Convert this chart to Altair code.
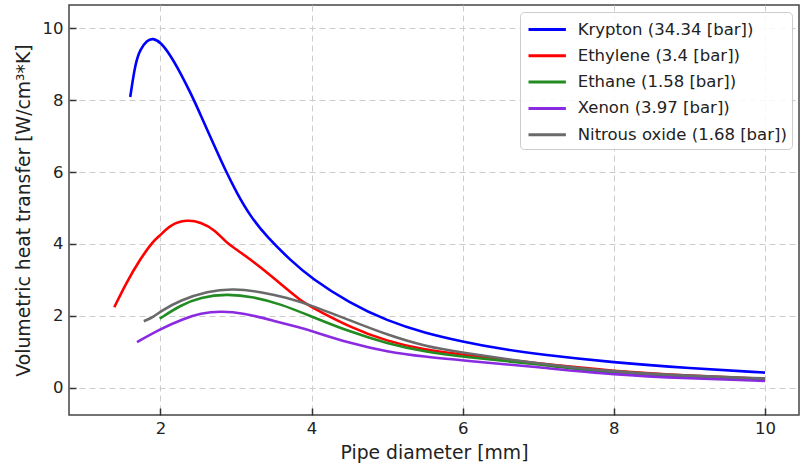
import altair as alt
import pandas as pd

series_names = [
    "Krypton (34.34 [bar])",
    "Ethylene (3.4 [bar])",
    "Ethane (1.58 [bar])",
    "Xenon (3.97 [bar])",
    "Nitrous oxide (1.68 [bar])",
]
series_colors = ["#0000ff", "#ff0000", "#228b22", "#8a2be2", "#6a6a6a"]

krypton_x = [1.60, 1.67, 1.735, 1.82, 1.90, 2.0, 2.13, 2.26, 2.40, 2.53, 2.705, 2.86, 3.01, 3.19, 3.41, 3.72, 4.0, 4.5, 5.0, 5.5, 6.0, 6.5, 7.0, 8.0, 9.0, 10.0]
krypton_y = [8.09, 9.06, 9.42, 9.66, 9.73, 9.62, 9.26, 8.78, 8.20, 7.60, 6.77, 6.05, 5.42, 4.77, 4.19, 3.55, 3.04, 2.36, 1.86, 1.52, 1.28, 1.08, 0.93, 0.70, 0.54, 0.42]

ethylene_x = [1.39, 1.54, 1.735, 1.91, 2.0, 2.13, 2.35, 2.53, 2.73, 2.86, 3.06, 3.32, 3.59, 3.85, 4.0, 4.5, 5.0, 5.5, 6.0, 7.0, 8.0, 9.0, 10.0]
ethylene_y = [2.24, 2.89, 3.59, 4.10, 4.24, 4.54, 4.68, 4.61, 4.38, 4.05, 3.77, 3.36, 2.89, 2.43, 2.24, 1.69, 1.29, 1.05, 0.92, 0.67, 0.46, 0.33, 0.25]

ethane_x = [1.99, 2.26, 2.53, 2.88, 3.23, 3.59, 4.0, 4.5, 5.0, 5.5, 6.0, 7.0, 8.0, 9.0, 10.0]
ethane_y = [1.92, 2.29, 2.52, 2.61, 2.53, 2.33, 1.98, 1.56, 1.23, 1.00, 0.86, 0.65, 0.40, 0.30, 0.22]

xenon_x = [1.69, 2.0, 2.31, 2.53, 2.79, 3.10, 3.50, 3.85, 4.0, 4.5, 5.0, 5.5, 6.0, 7.0, 8.0, 9.0, 10.0]
xenon_y = [1.27, 1.64, 1.92, 2.07, 2.13, 2.08, 1.86, 1.67, 1.58, 1.24, 1.00, 0.86, 0.76, 0.57, 0.36, 0.26, 0.19]

nitrous_x = [1.78, 1.91, 2.02, 2.26, 2.62, 2.97, 3.32, 3.68, 4.0, 4.5, 5.0, 5.5, 6.0, 7.0, 8.0, 9.0, 10.0]
nitrous_y = [1.85, 1.97, 2.15, 2.43, 2.69, 2.76, 2.67, 2.50, 2.29, 1.88, 1.47, 1.15, 0.97, 0.67, 0.44, 0.33, 0.26]

x_ticks = [2, 4, 6, 8, 10]
y_ticks = [0, 2, 4, 6, 8, 10]

rows = []
for name, xs, ys in zip(
    series_names,
    [krypton_x, ethylene_x, ethane_x, xenon_x, nitrous_x],
    [krypton_y, ethylene_y, ethane_y, xenon_y, nitrous_y],
):
    for i, (xv, yv) in enumerate(zip(xs, ys)):
        rows.append({"series": name, "d": xv, "q": yv, "order": i})
df = pd.DataFrame(rows)

x_scale = alt.Scale(domain=[0.79, 10.45], nice=False, zero=False)
y_scale = alt.Scale(domain=[-0.76, 10.65], nice=False, zero=False)

FONT = "DejaVu Sans"

lines = alt.Chart(df).mark_line(strokeWidth=2.6, interpolate="basis", clip=True).encode(
    x=alt.X(
        "d:Q", scale=x_scale, title="Pipe diameter [mm]",
        axis=alt.Axis(values=x_ticks, format="d", grid=True, gridDash=[6, 4], gridColor="#cccccc",
                      gridWidth=1, domain=False, ticks=False, tickSize=0, labelPadding=5,
                      titlePadding=7, labelFontSize=16.5, titleFontSize=18.8, labelColor="#222",
                      titleColor="#222", titleFontWeight="normal", labelFont=FONT, titleFont=FONT),
    ),
    y=alt.Y(
        "q:Q", scale=y_scale, title="Volumetric heat transfer [W/cm³*K]",
        axis=alt.Axis(values=y_ticks, format="d", grid=True, gridDash=[6, 4], gridColor="#cccccc",
                      gridWidth=1, domain=False, ticks=False, tickSize=0, labelPadding=6,
                      titlePadding=9, labelFontSize=16.5, titleFontSize=18.8, labelColor="#222",
                      titleColor="#222", titleFontWeight="normal", labelFont=FONT, titleFont=FONT),
    ),
    color=alt.Color(
        "series:N", sort=series_names,
        scale=alt.Scale(domain=series_names, range=series_colors),
        legend=alt.Legend(
            title=None, orient="top-right", offset=7,
            symbolType="M-1.7,0L1.7,0", symbolSize=484, symbolStrokeWidth=3,
            symbolOffset=9.7, labelOffset=18, padding=5, rowPadding=5.3,
            labelFontSize=16.5, labelFont=FONT, labelColor="#222", labelLimit=400,
            strokeColor="#cccccc", fillColor="rgba(255,255,255,0.85)", cornerRadius=4,
        ),
    ),
    order="order:Q",
)

tick_layer = alt.Chart(df).mark_point(opacity=0, size=0).encode(
    x=alt.X("d:Q", scale=x_scale,
            axis=alt.Axis(orient="bottom", values=x_ticks, offset=-7, tickSize=7, labels=False,
                          domain=False, grid=False, title=None, tickColor="#333", tickWidth=1.5, zindex=1)),
    y=alt.Y("q:Q", scale=y_scale,
            axis=alt.Axis(orient="left", values=y_ticks, offset=-7, tickSize=7, labels=False,
                          domain=False, grid=False, title=None, tickColor="#333", tickWidth=1.5, zindex=1)),
)

chart = alt.layer(lines, tick_layer).resolve_axis(x="independent", y="independent").properties(
    width=730, height=410,
    autosize=alt.AutoSizeParams(type="none"),
    padding={"left": 69, "top": 5, "right": 3, "bottom": 53},
    background="white",
).configure_view(stroke="#444", strokeWidth=1.5)

chart.save("out.html", embed_options={"renderer": "svg", "actions": False})
